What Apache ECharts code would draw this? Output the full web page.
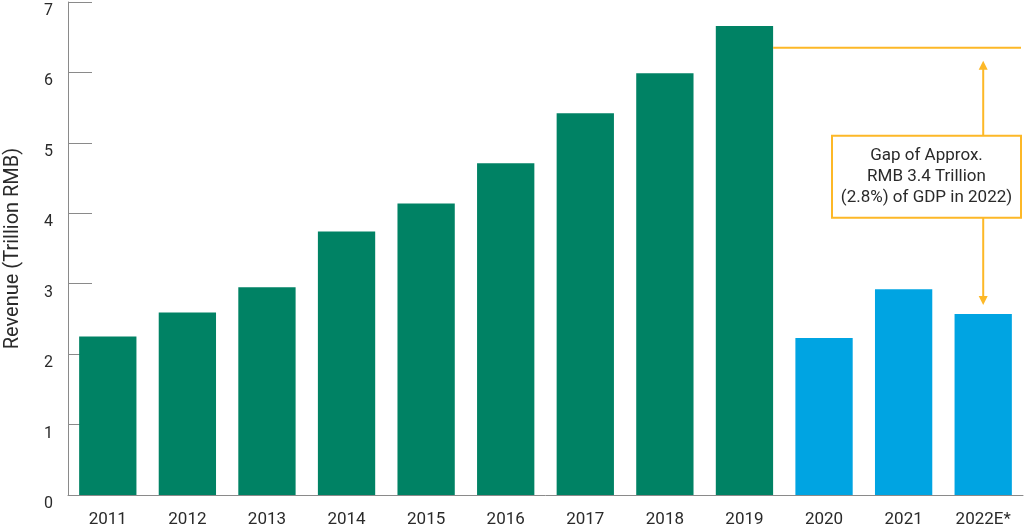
<!DOCTYPE html>
<html><head><meta charset="utf-8">
<script src="https://cdn.jsdelivr.net/npm/echarts@6/dist/echarts.min.js"></script>
<style>html,body{margin:0;padding:0;background:#fff}#c{width:1024px;height:530px}</style>
</head><body><div id="c"></div>
<script>
const categories = ['2011','2012','2013','2014','2015','2016','2017','2018','2019','2020','2021','2022E*'];
const revenue = [2.25,2.59,2.95,3.74,4.14,4.71,5.42,5.99,6.66,2.23,2.92,2.57];
const covidYears = [false,false,false,false,false,false,false,false,false,true,true,true];
const yTicks = [0,1,2,3,4,5,6,7];
const gapLevel = 6.35;
const gapNote = ['Gap of Approx.','RMB 3.4 Trillion','(2.8%) of GDP in 2022)'];

const GREEN = '#008264', BLUE = '#00A4E2', YELLOW = '#FDB827', AXIS = '#8a8a8a', TEXT = '#2a2a2a';
const FONT = 'Roboto';

const chart = echarts.init(document.getElementById('c'), null, {renderer:'canvas'});
const option = {
  animation:false,
  backgroundColor:'#fff',
  grid:{left:68,right:1,top:2,bottom:35,containLabel:false,outerBoundsMode:'none'},
  xAxis:{
    type:'category', data:categories, boundaryGap:true,
    axisLine:{lineStyle:{color:AXIS,width:1}},
    axisTick:{inside:true,length:14,lineStyle:{color:AXIS}},
    axisLabel:{fontFamily:FONT,fontSize:17,color:TEXT,margin:16}
  },
  yAxis:{
    type:'value', min:yTicks[0], max:yTicks[yTicks.length-1], interval:1,
    name:'Revenue (Trillion RMB)', nameLocation:'middle', nameGap:45,
    nameTextStyle:{fontFamily:FONT,fontSize:20,color:TEXT},
    axisLine:{show:true,lineStyle:{color:AXIS,width:1}},
    axisTick:{show:true,inside:true,length:24,lineStyle:{color:AXIS}},
    splitLine:{show:false},
    axisLabel:{fontFamily:FONT,fontSize:16,color:TEXT,margin:15,verticalAlign:'top',lineHeight:18}
  },
  series:[{
    type:'bar', barWidth:'72%',
    data: revenue.map((v,i)=>({value:v,itemStyle:{color: covidYears[i]?BLUE:GREEN}}))
  }]
};
chart.setOption(option);

const cx = i => chart.convertToPixel({xAxisIndex:0}, i);
const py = v => chart.convertToPixel({yAxisIndex:0}, v);
const band = cx(1) - cx(0);
const last = categories.length - 1;
const peakIdx = revenue.indexOf(Math.max(...revenue.slice(0, 9)));
const lineY = py(gapLevel);
const lineX1 = cx(peakIdx) + band*0.36;
const rightEdge = cx(last) + band/2 - 2;
const arrX = cx(last);
const arrTop = lineY + 13;
const arrBot = py(revenue[last]) - 9;
const boxW = 189, boxH = 82;
const boxT = lineY + 88;
const boxL = rightEdge - boxW;

chart.setOption({graphic:[
  {type:'line', z:100, shape:{x1:lineX1,y1:lineY,x2:rightEdge,y2:lineY}, style:{stroke:YELLOW,lineWidth:2}},
  {type:'line', z:100, shape:{x1:arrX,y1:arrTop+6,x2:arrX,y2:arrBot-6}, style:{stroke:YELLOW,lineWidth:2}},
  {type:'polygon', z:100, shape:{points:[[arrX,arrTop],[arrX-4.5,arrTop+9],[arrX+4.5,arrTop+9]]}, style:{fill:YELLOW}},
  {type:'polygon', z:100, shape:{points:[[arrX,arrBot],[arrX-4.5,arrBot-9],[arrX+4.5,arrBot-9]]}, style:{fill:YELLOW}},
  {type:'rect', z:101, shape:{x:boxL,y:boxT,width:boxW,height:boxH}, style:{fill:'#fff',stroke:YELLOW,lineWidth:2}},
  {type:'text', z:102, x:boxL+boxW/2, y:boxT+boxH/2, style:{text:gapNote.join('\n'),fontFamily:FONT,fontSize:17,fill:TEXT,align:'center',verticalAlign:'middle',lineHeight:21}}
]});
</script>
</body></html>
